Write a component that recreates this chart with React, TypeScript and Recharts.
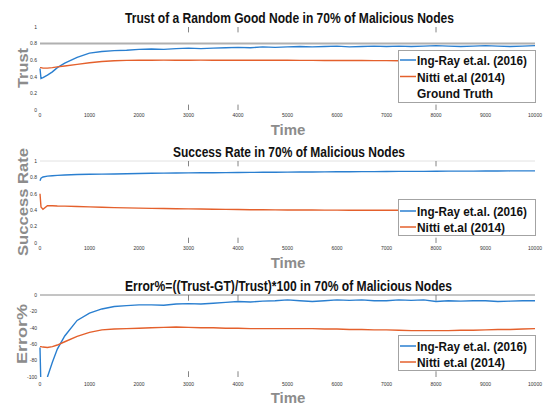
import { Legend, Line, LineChart, ReferenceLine, XAxis, YAxis } from "recharts";

const BLUE = "#2a7fd0";
const ORANGE = "#e4602c";
const FONT = "'Liberation Sans', Arial, sans-serif";

// simulation time steps (dense at the start, then every 250)
const TIME = [
  0, 20, 60, 150, 250, 350, 500, 750, 1000,
  1250, 1500, 1750, 2000,
  2250, 2500, 2750, 3000,
  3250, 3500, 3750, 4000,
  4250, 4500, 4750, 5000,
  5250, 5500, 5750, 6000,
  6250, 6500, 6750, 7000,
  7250, 7500, 7750, 8000,
  8250, 8500, 8750, 9000,
  9250, 9500, 9750, 10000,
];

const X_TICKS = [0, 1000, 2000, 3000, 4000, 5000, 6000, 7000, 8000, 9000, 10000];
// the little grid ticks visible at top/bottom of each box
const MARK_TICKS = [3000, 4000, 8000];

// panel 1: trust
const TRUST_INGRAY = [
  0.5, 0.38, 0.39, 0.42, 0.46, 0.51, 0.565, 0.635, 0.685,
  0.705, 0.715, 0.72, 0.73,
  0.735, 0.73, 0.74, 0.745,
  0.74, 0.745, 0.75, 0.755,
  0.75, 0.76, 0.755, 0.76,
  0.765, 0.76, 0.765, 0.77,
  0.76, 0.765, 0.77, 0.765,
  0.77, 0.765, 0.77, 0.775,
  0.77, 0.765, 0.77, 0.775,
  0.77, 0.765, 0.77, 0.775,
];
const TRUST_NITTI = [
  0.51, 0.51, 0.505, 0.505, 0.51, 0.52, 0.53, 0.55, 0.57,
  0.585, 0.593, 0.598, 0.6,
  0.6, 0.601, 0.6, 0.6,
  0.601, 0.6, 0.6, 0.6,
  0.6, 0.599, 0.6, 0.599,
  0.598, 0.598, 0.597, 0.597,
  0.596, 0.596, 0.595, 0.595,
  0.594, 0.594, 0.594, 0.593,
  0.593, 0.593, 0.592, 0.592,
  0.592, 0.592, 0.591, 0.591,
];
const GROUND_TRUTH = 0.8;
const TRUST_TICKS = [0, 0.2, 0.4, 0.6, 0.8, 1];

// panel 2: success rate
const SUCCESS_INGRAY = [
  0.76, 0.79, 0.805, 0.815, 0.82, 0.825, 0.83, 0.835, 0.838,
  0.84, 0.842, 0.845, 0.848,
  0.85, 0.852, 0.853, 0.855,
  0.856, 0.857, 0.858, 0.86,
  0.861, 0.862, 0.863, 0.864,
  0.865, 0.866, 0.867, 0.868,
  0.869, 0.87, 0.871, 0.872,
  0.873, 0.873, 0.874, 0.875,
  0.876, 0.876, 0.877, 0.878,
  0.878, 0.879, 0.88, 0.88,
];
const SUCCESS_NITTI = [
  0.6, 0.44, 0.41, 0.455, 0.455, 0.452, 0.45, 0.446, 0.44,
  0.436, 0.432, 0.428, 0.425,
  0.422, 0.42, 0.418, 0.416,
  0.414, 0.412, 0.41, 0.408,
  0.406, 0.405, 0.404, 0.403,
  0.402, 0.402, 0.401, 0.401,
  0.4, 0.4, 0.4, 0.4,
  0.4, 0.4, 0.4, 0.4,
  0.4, 0.4, 0.4, 0.4,
  0.4, 0.4, 0.4, 0.4,
];
const SUCCESS_TICKS = [0, 0.2, 0.4, 0.6, 0.8, 1];

// panel 3: error %
const ERROR_INGRAY = [
  -64, -115, -115, -100, -82, -66, -50, -31, -22,
  -17, -14, -13, -12,
  -12, -12.5, -11, -10.5,
  -11, -10, -9, -8,
  -8.5, -7.5, -7, -6,
  -7, -8, -7, -6,
  -6.5, -6, -7, -7,
  -6, -6.5, -6, -8,
  -7, -7.5, -7, -7,
  -8, -7.5, -7, -7,
];
const ERROR_NITTI = [
  -63, -63, -63.5, -64, -63, -61, -57, -50.5, -45.5,
  -42.5, -41.5, -41, -40.5,
  -40, -39.5, -39, -39.5,
  -40, -40, -40.5, -40.5,
  -41, -41, -41, -41,
  -41, -41, -41.5, -41.5,
  -42, -42, -42.5, -42.5,
  -43, -43.5, -43.5, -43.5,
  -43.5, -43, -43, -42.5,
  -42, -42, -41.5, -41,
];
const ERROR_TICKS = [-100, -80, -60, -40, -20, 0];

const SERIES_NAMES = ["Ing-Ray et.al. (2016)", "Nitti et.al (2014)"];
const LEGEND_WIDTHS: Record<string, number> = {
  "Ing-Ray et.al. (2016)": 110,
  "Nitti et.al (2014)": 88,
  "Ground Truth": 76,
};

const zip = (a: number[], b: number[]) =>
  TIME.map((t, i) => ({ t, ingray: a[i], nitti: b[i] }));

function LegendBox({ payload, height, rows, extra }: any) {
  const entries = (payload || []).map((p: any) => ({ label: p.value, color: p.color }));
  if (extra) entries.push({ label: extra, color: null });
  return (
    <svg width={138} height={height} style={{ display: "block" }}>
      <rect x={0.5} y={0.5} width={137} height={height - 1} fill="#fff" stroke="#a3a3a3" />
      {entries.map((e: any, i: number) => (
        <g key={e.label}>
          {e.color && <line x1={2} x2={18} y1={rows[i]} y2={rows[i]} stroke={e.color} strokeWidth={1.5} />}
          <text
            x={19}
            y={rows[i] + 5}
            fontFamily={FONT}
            fontWeight="bold"
            fontSize={12}
            fill="#111"
            textLength={LEGEND_WIDTHS[e.label]}
            lengthAdjust="spacingAndGlyphs"
          >
            {e.label}
          </text>
        </g>
      ))}
    </svg>
  );
}

interface PanelProps {
  data: { t: number; ingray: number; nitti: number }[];
  domain: [number, number];
  ticks: number[];
  top: number;
  xHeight: number;
  xMargin: number;
  legendTop: number;
  legendHeight: number;
  legendRows: number[];
  legendExtra?: string;
  refY: number;
  refColor: string;
  refWidth: number;
  markLen: number;
}

function Panel(p: PanelProps) {
  const tick = { fontSize: 5, fill: "#333", fontFamily: FONT };
  const [lo, hi] = p.domain;
  return (
    <LineChart width={544} height={136} data={p.data} margin={{ top: p.top, right: 9, bottom: 0, left: 0 }}>
      <XAxis
        dataKey="t"
        type="number"
        domain={[0, 10000]}
        ticks={X_TICKS}
        tick={tick}
        tickLine={false}
        axisLine={false}
        tickSize={0}
        tickMargin={p.xMargin}
        height={p.xHeight}
        interval={0}
      />
      <YAxis
        domain={p.domain}
        ticks={p.ticks}
        tick={tick}
        tickLine={false}
        axisLine={false}
        tickSize={0}
        tickMargin={3}
        width={40}
        allowDataOverflow
        interval={0}
      />
      <ReferenceLine y={p.refY} stroke={p.refColor} strokeWidth={p.refWidth} />
      {MARK_TICKS.map((x) => (
        <ReferenceLine
          key={"t" + x}
          segment={[{ x, y: hi }, { x, y: hi - p.markLen }]}
          stroke="#666"
          strokeWidth={0.8}
        />
      ))}
      {MARK_TICKS.map((x) => (
        <ReferenceLine
          key={"b" + x}
          segment={[{ x, y: lo }, { x, y: lo + p.markLen }]}
          stroke="#666"
          strokeWidth={0.8}
        />
      ))}
      <Line
        type="linear"
        dataKey="ingray"
        name={SERIES_NAMES[0]}
        stroke={BLUE}
        strokeWidth={1.4}
        dot={false}
        isAnimationActive={false}
      />
      <Line
        type="linear"
        dataKey="nitti"
        name={SERIES_NAMES[1]}
        stroke={ORANGE}
        strokeWidth={1.4}
        dot={false}
        isAnimationActive={false}
      />
      <Legend
        layout="horizontal"
        verticalAlign="middle"
        align="center"
        wrapperStyle={{ left: 398, top: p.legendTop, width: 138, height: p.legendHeight }}
        content={(props: any) => (
          <LegendBox payload={props.payload} height={p.legendHeight} rows={p.legendRows} extra={p.legendExtra} />
        )}
      />
    </LineChart>
  );
}

const titleStyle = { fontFamily: FONT, fontWeight: "bold" as const, fontSize: 15, fill: "#111" };
const axisStyle = { fontFamily: FONT, fontWeight: "bold" as const, fontSize: 15, fill: "#8c8c8c" };

export default function App() {
  return (
    <div style={{ position: "absolute", left: 0, top: 0, width: 544, height: 408, background: "#fff" }}>
      <div style={{ position: "absolute", left: 0, top: 0 }}>
        <Panel
          data={zip(TRUST_INGRAY, TRUST_NITTI)}
          domain={[0, 1]}
          ticks={TRUST_TICKS}
          top={27}
          xHeight={26}
          xMargin={3}
          legendTop={50}
          legendHeight={53}
          legendRows={[10, 26.5, 43]}
          legendExtra="Ground Truth"
          refY={GROUND_TRUTH}
          refColor="#b0b0b0"
          refWidth={2}
          markLen={0.065}
        />
      </div>
      <div style={{ position: "absolute", left: 0, top: 136 }}>
        <Panel
          data={zip(SUCCESS_INGRAY, SUCCESS_NITTI)}
          domain={[0, 1]}
          ticks={SUCCESS_TICKS}
          top={25}
          xHeight={29}
          xMargin={3}
          legendTop={63}
          legendHeight={37}
          legendRows={[12, 28]}
          refY={1}
          refColor="#e2e2e2"
          refWidth={1}
          markLen={0.065}
        />
      </div>
      <div style={{ position: "absolute", left: 0, top: 272 }}>
        <Panel
          data={zip(ERROR_INGRAY, ERROR_NITTI)}
          domain={[-100, 0]}
          ticks={ERROR_TICKS}
          top={23}
          xHeight={31}
          xMargin={5}
          legendTop={63}
          legendHeight={36}
          legendRows={[11, 27]}
          refY={0}
          refColor="#8a8a8a"
          refWidth={1}
          markLen={7}
        />
      </div>
      <svg width={544} height={408} style={{ position: "absolute", left: 0, top: 0, pointerEvents: "none" }}>
        <text x={289.5} y={22.5} textAnchor="middle" textLength={329} lengthAdjust="spacingAndGlyphs" {...titleStyle}>
          Trust of a Random Good Node in 70% of Malicious Nodes
        </text>
        <text x={289} y={156.5} textAnchor="middle" textLength={232} lengthAdjust="spacingAndGlyphs" {...titleStyle}>
          Success Rate in 70% of Malicious Nodes
        </text>
        <text x={288.5} y={291} textAnchor="middle" textLength={327} lengthAdjust="spacingAndGlyphs" {...titleStyle}>
          Error%=((Trust-GT)/Trust)*100 in 70% of Malicious Nodes
        </text>

        <text transform="translate(27.5,68) rotate(-90)" textAnchor="middle" textLength={40} lengthAdjust="spacingAndGlyphs" {...axisStyle}>
          Trust
        </text>
        <text transform="translate(28,202) rotate(-90)" textAnchor="middle" textLength={108} lengthAdjust="spacingAndGlyphs" {...axisStyle}>
          Success Rate
        </text>
        <text transform="translate(26.5,334) rotate(-90)" textAnchor="middle" textLength={60} lengthAdjust="spacingAndGlyphs" {...axisStyle}>
          Error%
        </text>

        <text x={288} y={135} textAnchor="middle" {...axisStyle}>Time</text>
        <text x={288} y={268} textAnchor="middle" {...axisStyle}>Time</text>
        <text x={288} y={403} textAnchor="middle" {...axisStyle}>Time</text>
      </svg>
    </div>
  );
}
